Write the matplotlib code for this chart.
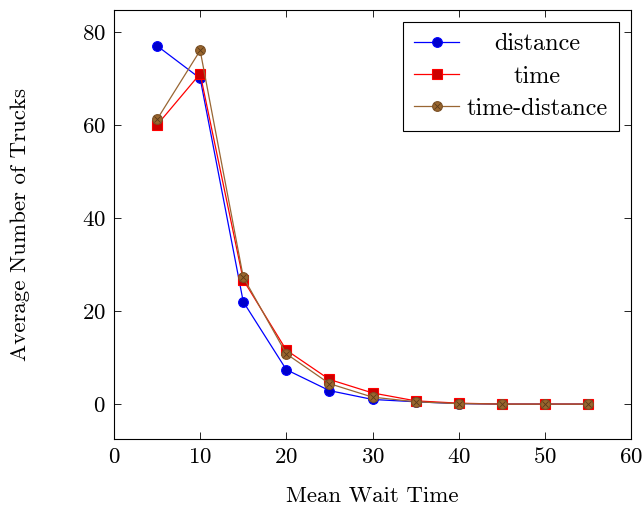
import matplotlib
matplotlib.use("Agg")
import matplotlib.pyplot as plt
from matplotlib.legend_handler import HandlerTuple
from matplotlib.lines import Line2D

plt.rcParams['font.family'] = 'serif'
plt.rcParams['font.serif'] = ['cmr10']
plt.rcParams['mathtext.fontset'] = 'cm'
plt.rcParams['axes.formatter.use_mathtext'] = True

wait_times = [5, 10, 15, 20, 25, 30, 35, 40, 45, 50, 55]
distance = [77, 70, 22, 7.4, 2.9, 1.0, 0.5, 0.1, 0.0, 0.0, 0.0]
time_s = [60, 71, 26.7, 11.6, 5.3, 2.4, 0.7, 0.2, 0.0, 0.0, 0.0]
time_distance = [61.2, 76, 27.3, 10.8, 4.4, 1.5, 0.5, 0.1, 0.0, 0.0, 0.0]
labels = ['distance', 'time', 'time-distance']

FS = 16.5
LFS = 17.5
fig = plt.figure(figsize=(6.44, 5.08), dpi=100)
ax = fig.add_axes([114/644, 1-439/508, (631-114)/644, (439-10)/508])

blue_kw = dict(color='blue', lw=0.9, marker='o', markersize=7,
               markerfacecolor='#0000cc', markeredgecolor='blue', markeredgewidth=0.8)
red_kw = dict(color='red', lw=0.9, marker='s', markersize=7,
              markerfacecolor='#cc0000', markeredgecolor='red', markeredgewidth=0.8)
brown_kw = dict(color='#996633', lw=0.9, marker='o', markersize=7,
                markerfacecolor='#99662e', markeredgecolor='#7a5026', markeredgewidth=0.8)
x_kw = dict(ls='none', marker='x', markersize=4.8,
            markeredgecolor='#5a3a1a', markeredgewidth=0.6)

ax.plot(wait_times, distance, label=labels[0], **blue_kw)
ax.plot(wait_times, time_s, label=labels[1], **red_kw)
ax.plot(wait_times, time_distance, label=labels[2], **brown_kw)
ax.plot(wait_times, time_distance, **x_kw)

ax.set_xlim(0, 60)
ax.set_ylim(-7.5, 84.7)
ax.set_xticks([0, 10, 20, 30, 40, 50, 60])
ax.set_yticks([0, 20, 40, 60, 80])
ax.tick_params(direction='in', top=True, right=True, labelsize=FS, length=5, width=0.6, pad=6)
for s in ax.spines.values():
    s.set_linewidth(0.8)
ax.set_xlabel('Mean Wait Time', fontsize=FS, labelpad=14)
ax.set_ylabel('Average Number of Trucks', fontsize=FS, labelpad=37)

h1 = Line2D([], [], **blue_kw)
h2 = Line2D([], [], **red_kw)
h3 = (Line2D([], [], **brown_kw), Line2D([], [], **x_kw))
leg = ax.legend([h1, h2, h3], labels,
                handler_map={tuple: HandlerTuple(ndivide=1, pad=0)},
                loc='upper right', fontsize=LFS, fancybox=False, edgecolor='black',
                framealpha=1, borderpad=0.45, handlelength=1.85, handletextpad=0.3,
                labelspacing=0.42, borderaxespad=0.5)
leg.get_frame().set_linewidth(0.8)

fig.canvas.draw()
r = fig.canvas.get_renderer()
texts = leg.get_texts()
widths = [t.get_window_extent(r).width for t in texts]
W = max(widths)
for t, w in zip(texts, widths):
    t.set_position(((W - w) / 2, 0))

fig.savefig('out.png', dpi=100)
